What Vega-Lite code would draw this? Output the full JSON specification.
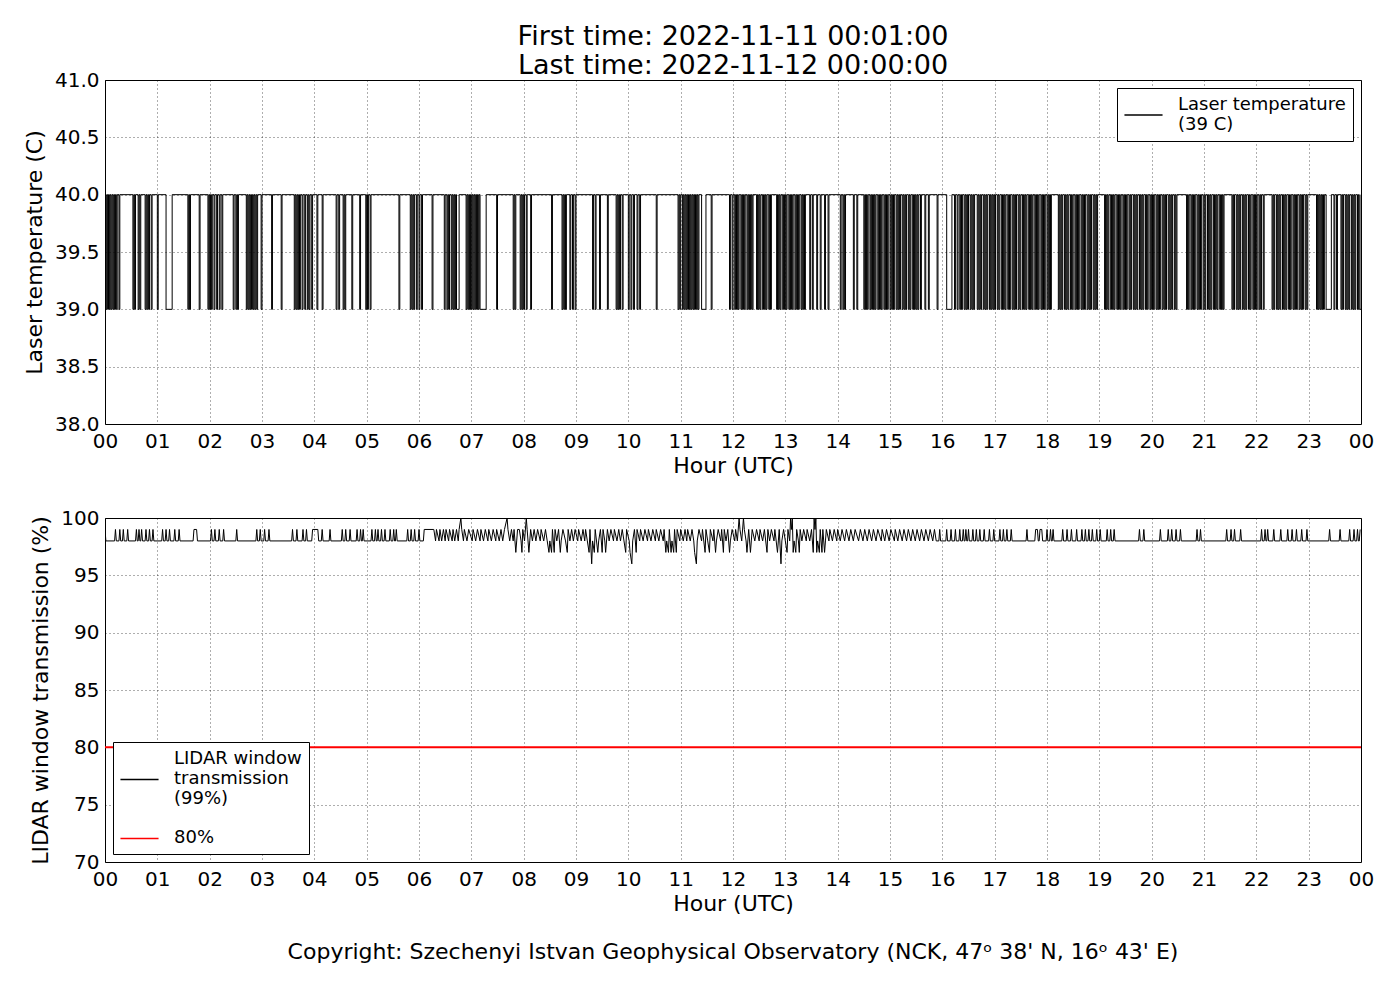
{
  "$schema": "https://vega.github.io/schema/vega-lite/v6.json",
  "background": "white",
  "padding": {"left": 22, "top": 22, "right": 10, "bottom": 10},
  "resolve": {"scale": {"color": "independent"}, "legend": {"color": "independent"}},
  "datasets": {
    "laser": [
      {"m":0,"v":40},
      {"m":1,"v":39},{"m":2,"v":40},{"m":3,"v":39},{"m":4,"v":40},{"m":5,"v":39},{"m":6,"v":40},{"m":7,"v":39},{"m":8,"v":40},{"m":9,"v":39},{"m":10,"v":40},{"m":11,"v":39},{"m":12,"v":40},{"m":13,"v":39},{"m":14,"v":40},{"m":16,"v":39},{"m":17,"v":40},
      {"m":32,"v":39},{"m":33,"v":40},{"m":34,"v":39},{"m":35,"v":40},{"m":38,"v":39},{"m":39,"v":40},{"m":40,"v":39},{"m":41,"v":40},{"m":46,"v":39},{"m":47,"v":40},{"m":48,"v":39},{"m":49,"v":40},{"m":50,"v":39},{"m":51,"v":40},{"m":53,"v":39},{"m":54,"v":40},{"m":60,"v":39},{"m":61,"v":40},
      {"m":70,"v":39},{"m":77,"v":40},
      {"m":95,"v":39},{"m":96,"v":40},{"m":97,"v":39},{"m":98,"v":40},{"m":108,"v":39},{"m":109,"v":40},{"m":118,"v":39},{"m":119,"v":40},{"m":120,"v":39},{"m":121,"v":40},{"m":122,"v":39},{"m":123,"v":40},{"m":125,"v":39},{"m":126,"v":40},{"m":128,"v":39},{"m":129,"v":40},{"m":131,"v":39},{"m":132,"v":40},{"m":134,"v":39},{"m":135,"v":40},{"m":147,"v":39},{"m":148,"v":40},{"m":150,"v":39},{"m":151,"v":40},{"m":152,"v":39},{"m":153,"v":40},
      {"m":162,"v":39},{"m":163,"v":40},{"m":164,"v":39},{"m":165,"v":40},{"m":166,"v":39},{"m":167,"v":40},{"m":168,"v":39},{"m":169,"v":40},{"m":170,"v":39},{"m":171,"v":40},{"m":172,"v":39},{"m":173,"v":40},{"m":174,"v":39},{"m":175,"v":40},{"m":179,"v":39},{"m":180,"v":40},{"m":191,"v":39},{"m":192,"v":40},{"m":202,"v":39},{"m":203,"v":40},
      {"m":217,"v":39},{"m":218,"v":40},{"m":219,"v":39},{"m":220,"v":40},{"m":221,"v":39},{"m":222,"v":40},{"m":223,"v":39},{"m":224,"v":40},{"m":226,"v":39},{"m":227,"v":40},{"m":229,"v":39},{"m":230,"v":40},{"m":232,"v":39},{"m":233,"v":40},{"m":234,"v":39},{"m":235,"v":40},{"m":237,"v":39},{"m":238,"v":40},{"m":243,"v":39},{"m":244,"v":40},{"m":249,"v":39},{"m":250,"v":40},
      {"m":265,"v":39},{"m":266,"v":40},{"m":268,"v":39},{"m":269,"v":40},{"m":273,"v":39},{"m":274,"v":40},{"m":275,"v":39},{"m":276,"v":40},{"m":283,"v":39},{"m":284,"v":40},{"m":292,"v":39},{"m":293,"v":40},{"m":299,"v":39},{"m":300,"v":40},{"m":301,"v":39},{"m":302,"v":40},{"m":304,"v":39},{"m":305,"v":40},{"m":337,"v":39},{"m":338,"v":40},
      {"m":350,"v":39},{"m":351,"v":40},{"m":352,"v":39},{"m":353,"v":40},{"m":354,"v":39},{"m":355,"v":40},{"m":357,"v":39},{"m":358,"v":40},{"m":360,"v":39},{"m":361,"v":40},{"m":363,"v":39},{"m":364,"v":40},{"m":375,"v":39},{"m":376,"v":40},{"m":389,"v":39},{"m":390,"v":40},{"m":392,"v":39},{"m":393,"v":40},{"m":394,"v":39},{"m":395,"v":40},
      {"m":397,"v":39},{"m":398,"v":40},{"m":399,"v":39},{"m":400,"v":40},{"m":401,"v":39},{"m":402,"v":40},{"m":403,"v":39},{"m":406,"v":40},
      {"m":414,"v":39},{"m":415,"v":40},{"m":416,"v":39},{"m":417,"v":40},{"m":418,"v":39},{"m":419,"v":40},{"m":420,"v":39},{"m":421,"v":40},{"m":422,"v":39},{"m":423,"v":40},{"m":424,"v":39},{"m":425,"v":40},{"m":426,"v":39},{"m":427,"v":40},{"m":428,"v":39},{"m":429,"v":40},{"m":430,"v":39},{"m":437,"v":40},
      {"m":449,"v":39},{"m":450,"v":40},{"m":468,"v":39},{"m":469,"v":40},{"m":470,"v":39},{"m":471,"v":40},{"m":476,"v":39},{"m":477,"v":40},{"m":478,"v":39},{"m":479,"v":40},{"m":480,"v":39},{"m":481,"v":40},{"m":483,"v":39},{"m":484,"v":40},{"m":488,"v":39},{"m":489,"v":40},{"m":512,"v":39},{"m":513,"v":40},{"m":524,"v":39},{"m":525,"v":40},{"m":526,"v":39},{"m":527,"v":40},{"m":528,"v":39},{"m":529,"v":40},{"m":533,"v":39},{"m":534,"v":40},{"m":536,"v":39},{"m":537,"v":40},{"m":539,"v":39},{"m":540,"v":40},
      {"m":559,"v":39},{"m":560,"v":40},{"m":562,"v":39},{"m":563,"v":40},{"m":567,"v":39},{"m":568,"v":40},{"m":576,"v":39},{"m":577,"v":40},{"m":586,"v":39},{"m":587,"v":40},{"m":588,"v":39},{"m":589,"v":40},{"m":590,"v":39},{"m":591,"v":40},{"m":593,"v":39},{"m":594,"v":40},{"m":600,"v":39},{"m":601,"v":40},{"m":603,"v":39},{"m":604,"v":40},{"m":606,"v":39},{"m":607,"v":40},{"m":610,"v":39},{"m":611,"v":40},{"m":613,"v":39},{"m":614,"v":40},{"m":632,"v":39},{"m":633,"v":40},{"m":657,"v":39},{"m":658,"v":40},{"m":659,"v":39},{"m":660,"v":40},
      {"m":662,"v":39},{"m":663,"v":40},{"m":664,"v":39},{"m":665,"v":40},{"m":666,"v":39},{"m":667,"v":40},{"m":668,"v":39},{"m":669,"v":40},{"m":670,"v":39},{"m":671,"v":40},{"m":672,"v":39},{"m":673,"v":40},{"m":674,"v":39},{"m":675,"v":40},{"m":676,"v":39},{"m":677,"v":40},{"m":678,"v":39},{"m":679,"v":40},{"m":680,"v":39},{"m":681,"v":40},{"m":684,"v":39},{"m":689,"v":40},{"m":695,"v":39},{"m":696,"v":40},
      {"m":716,"v":39},{"m":717,"v":40},{"m":719,"v":39},{"m":720,"v":40},{"m":722,"v":39},{"m":723,"v":40},{"m":724,"v":39},{"m":725,"v":40},{"m":726,"v":39},{"m":727,"v":40},{"m":729,"v":39},{"m":730,"v":40},{"m":731,"v":39},{"m":732,"v":40},{"m":733,"v":39},{"m":734,"v":40},{"m":736,"v":39},{"m":737,"v":40},{"m":738,"v":39},{"m":739,"v":40},{"m":740,"v":39},{"m":741,"v":40},{"m":742,"v":39},{"m":743,"v":40},
      {"m":747,"v":39},{"m":748,"v":40},{"m":749,"v":39},{"m":750,"v":40},{"m":751,"v":39},{"m":752,"v":40},{"m":754,"v":39},{"m":755,"v":40},{"m":756,"v":39},{"m":757,"v":40},{"m":758,"v":39},{"m":759,"v":40},{"m":761,"v":39},{"m":762,"v":40},{"m":763,"v":39},{"m":764,"v":40},
      {"m":770,"v":39},{"m":771,"v":40},{"m":772,"v":39},{"m":773,"v":40},{"m":774,"v":39},{"m":775,"v":40},{"m":777,"v":39},{"m":778,"v":40},{"m":779,"v":39},{"m":780,"v":40},{"m":781,"v":39},{"m":782,"v":40},{"m":784,"v":39},{"m":785,"v":40},{"m":786,"v":39},{"m":787,"v":40},{"m":788,"v":39},{"m":789,"v":40},{"m":791,"v":39},{"m":792,"v":40},{"m":793,"v":39},{"m":794,"v":40},{"m":795,"v":39},{"m":796,"v":40},{"m":798,"v":39},{"m":799,"v":40},{"m":800,"v":39},{"m":801,"v":40},{"m":802,"v":39},{"m":803,"v":40},
      {"m":808,"v":39},{"m":809,"v":40},{"m":811,"v":39},{"m":812,"v":40},{"m":816,"v":39},{"m":817,"v":40},{"m":820,"v":39},{"m":821,"v":40},{"m":825,"v":39},{"m":826,"v":40},{"m":829,"v":39},{"m":830,"v":40},
      {"m":843,"v":39},{"m":844,"v":40},{"m":846,"v":39},{"m":847,"v":40},{"m":848,"v":39},{"m":849,"v":40},{"m":858,"v":39},{"m":859,"v":40},{"m":862,"v":39},{"m":863,"v":40},
      {"m":870,"v":39},{"m":871,"v":40},{"m":872,"v":39},{"m":873,"v":40},{"m":874,"v":39},{"m":875,"v":40},{"m":877,"v":39},{"m":878,"v":40},{"m":879,"v":39},{"m":880,"v":40},{"m":881,"v":39},{"m":882,"v":40},{"m":883,"v":39},{"m":884,"v":40},{"m":886,"v":39},{"m":887,"v":40},{"m":888,"v":39},{"m":889,"v":40},{"m":890,"v":39},{"m":891,"v":40},{"m":893,"v":39},{"m":894,"v":40},{"m":895,"v":39},{"m":896,"v":40},{"m":897,"v":39},{"m":898,"v":40},{"m":900,"v":39},{"m":901,"v":40},{"m":902,"v":39},{"m":903,"v":40},{"m":904,"v":39},{"m":905,"v":40},{"m":907,"v":39},{"m":908,"v":40},{"m":909,"v":39},{"m":910,"v":40},{"m":911,"v":39},{"m":912,"v":40},{"m":914,"v":39},{"m":915,"v":40},{"m":916,"v":39},{"m":917,"v":40},{"m":918,"v":39},{"m":919,"v":40},{"m":921,"v":39},{"m":922,"v":40},{"m":923,"v":39},{"m":924,"v":40},{"m":926,"v":39},{"m":927,"v":40},{"m":928,"v":39},{"m":929,"v":40},{"m":930,"v":39},{"m":931,"v":40},{"m":932,"v":39},{"m":933,"v":40},
      {"m":935,"v":39},{"m":936,"v":40},{"m":940,"v":39},{"m":941,"v":40},{"m":944,"v":39},{"m":945,"v":40},{"m":954,"v":39},{"m":955,"v":40},
      {"m":965,"v":39},{"m":971,"v":40},{"m":974,"v":39},{"m":975,"v":40},{"m":977,"v":39},{"m":978,"v":40},
      {"m":980,"v":39},{"m":981,"v":40},{"m":982,"v":39},{"m":983,"v":40},{"m":985,"v":39},{"m":986,"v":40},{"m":987,"v":39},{"m":988,"v":40},{"m":989,"v":39},{"m":990,"v":40},{"m":992,"v":39},{"m":993,"v":40},{"m":994,"v":39},{"m":995,"v":40},{"m":996,"v":39},{"m":997,"v":40},{"m":1000,"v":39},{"m":1001,"v":40},{"m":1002,"v":39},{"m":1003,"v":40},{"m":1004,"v":39},{"m":1005,"v":40},{"m":1007,"v":39},{"m":1008,"v":40},{"m":1009,"v":39},{"m":1010,"v":40},{"m":1011,"v":39},{"m":1012,"v":40},{"m":1014,"v":39},{"m":1015,"v":40},{"m":1016,"v":39},{"m":1017,"v":40},{"m":1018,"v":39},{"m":1019,"v":40},{"m":1020,"v":39},{"m":1021,"v":40},
      {"m":1023,"v":39},{"m":1024,"v":40},{"m":1025,"v":39},{"m":1026,"v":40},{"m":1028,"v":39},{"m":1029,"v":40},{"m":1030,"v":39},{"m":1031,"v":40},{"m":1032,"v":39},{"m":1033,"v":40},{"m":1035,"v":39},{"m":1036,"v":40},{"m":1037,"v":39},{"m":1038,"v":40},{"m":1040,"v":39},{"m":1041,"v":40},{"m":1042,"v":39},{"m":1043,"v":40},{"m":1044,"v":39},{"m":1045,"v":40},{"m":1047,"v":39},{"m":1048,"v":40},{"m":1049,"v":39},{"m":1050,"v":40},{"m":1052,"v":39},{"m":1053,"v":40},{"m":1054,"v":39},{"m":1055,"v":40},{"m":1056,"v":39},{"m":1057,"v":40},{"m":1059,"v":39},{"m":1060,"v":40},{"m":1061,"v":39},{"m":1062,"v":40},{"m":1063,"v":39},{"m":1064,"v":40},{"m":1066,"v":39},{"m":1067,"v":40},{"m":1068,"v":39},{"m":1069,"v":40},{"m":1070,"v":39},{"m":1071,"v":40},
      {"m":1073,"v":39},{"m":1074,"v":40},{"m":1075,"v":39},{"m":1076,"v":40},{"m":1077,"v":39},{"m":1078,"v":40},{"m":1080,"v":39},{"m":1081,"v":40},{"m":1082,"v":39},{"m":1083,"v":40},{"m":1084,"v":39},{"m":1085,"v":40},
      {"m":1093,"v":39},{"m":1094,"v":40},{"m":1095,"v":39},{"m":1096,"v":40},{"m":1097,"v":39},{"m":1098,"v":40},{"m":1100,"v":39},{"m":1101,"v":40},{"m":1102,"v":39},{"m":1103,"v":40},{"m":1104,"v":39},{"m":1105,"v":40},{"m":1107,"v":39},{"m":1108,"v":40},{"m":1109,"v":39},{"m":1110,"v":40},{"m":1112,"v":39},{"m":1113,"v":40},{"m":1114,"v":39},{"m":1115,"v":40},{"m":1116,"v":39},{"m":1117,"v":40},{"m":1119,"v":39},{"m":1120,"v":40},{"m":1121,"v":39},{"m":1122,"v":40},{"m":1123,"v":39},{"m":1124,"v":40},{"m":1126,"v":39},{"m":1127,"v":40},{"m":1128,"v":39},{"m":1129,"v":40},{"m":1130,"v":39},{"m":1131,"v":40},{"m":1133,"v":39},{"m":1134,"v":40},{"m":1135,"v":39},{"m":1136,"v":40},{"m":1137,"v":39},{"m":1138,"v":40},
      {"m":1146,"v":39},{"m":1147,"v":40},{"m":1148,"v":39},{"m":1149,"v":40},{"m":1150,"v":39},{"m":1151,"v":40},{"m":1153,"v":39},{"m":1154,"v":40},{"m":1155,"v":39},{"m":1156,"v":40},{"m":1157,"v":39},{"m":1158,"v":40},{"m":1160,"v":39},{"m":1161,"v":40},{"m":1162,"v":39},{"m":1163,"v":40},{"m":1164,"v":39},{"m":1165,"v":40},{"m":1167,"v":39},{"m":1168,"v":40},{"m":1169,"v":39},{"m":1170,"v":40},{"m":1171,"v":39},{"m":1172,"v":40},{"m":1174,"v":39},{"m":1175,"v":40},{"m":1176,"v":39},{"m":1177,"v":40},{"m":1179,"v":39},{"m":1180,"v":40},{"m":1181,"v":39},{"m":1182,"v":40},{"m":1183,"v":39},{"m":1184,"v":40},{"m":1186,"v":39},{"m":1187,"v":40},{"m":1188,"v":39},{"m":1189,"v":40},{"m":1190,"v":39},{"m":1191,"v":40},{"m":1193,"v":39},{"m":1194,"v":40},{"m":1195,"v":39},{"m":1196,"v":40},{"m":1198,"v":39},{"m":1199,"v":40},{"m":1200,"v":39},{"m":1201,"v":40},{"m":1202,"v":39},{"m":1203,"v":40},{"m":1205,"v":39},{"m":1206,"v":40},{"m":1207,"v":39},{"m":1208,"v":40},{"m":1209,"v":39},{"m":1210,"v":40},{"m":1212,"v":39},{"m":1213,"v":40},{"m":1214,"v":39},{"m":1215,"v":40},{"m":1216,"v":39},{"m":1217,"v":40},{"m":1219,"v":39},{"m":1220,"v":40},{"m":1221,"v":39},{"m":1222,"v":40},{"m":1223,"v":39},{"m":1224,"v":40},{"m":1226,"v":39},{"m":1227,"v":40},{"m":1228,"v":39},{"m":1229,"v":40},
      {"m":1240,"v":39},{"m":1241,"v":40},{"m":1242,"v":39},{"m":1243,"v":40},{"m":1245,"v":39},{"m":1246,"v":40},{"m":1247,"v":39},{"m":1248,"v":40},{"m":1249,"v":39},{"m":1250,"v":40},{"m":1252,"v":39},{"m":1253,"v":40},{"m":1254,"v":39},{"m":1255,"v":40},{"m":1256,"v":39},{"m":1257,"v":40},{"m":1259,"v":39},{"m":1260,"v":40},{"m":1261,"v":39},{"m":1262,"v":40},{"m":1264,"v":39},{"m":1265,"v":40},{"m":1266,"v":39},{"m":1267,"v":40},{"m":1268,"v":39},{"m":1269,"v":40},{"m":1271,"v":39},{"m":1272,"v":40},{"m":1273,"v":39},{"m":1274,"v":40},{"m":1275,"v":39},{"m":1276,"v":40},{"m":1278,"v":39},{"m":1279,"v":40},{"m":1280,"v":39},{"m":1281,"v":40},{"m":1282,"v":39},{"m":1283,"v":40},
      {"m":1292,"v":39},{"m":1293,"v":40},{"m":1294,"v":39},{"m":1295,"v":40},{"m":1297,"v":39},{"m":1298,"v":40},{"m":1299,"v":39},{"m":1300,"v":40},{"m":1301,"v":39},{"m":1302,"v":40},{"m":1304,"v":39},{"m":1305,"v":40},{"m":1306,"v":39},{"m":1307,"v":40},{"m":1308,"v":39},{"m":1309,"v":40},{"m":1311,"v":39},{"m":1312,"v":40},{"m":1313,"v":39},{"m":1314,"v":40},{"m":1316,"v":39},{"m":1317,"v":40},{"m":1318,"v":39},{"m":1319,"v":40},{"m":1320,"v":39},{"m":1321,"v":40},{"m":1323,"v":39},{"m":1324,"v":40},{"m":1325,"v":39},{"m":1326,"v":40},{"m":1328,"v":39},{"m":1329,"v":40},
      {"m":1338,"v":39},{"m":1339,"v":40},{"m":1340,"v":39},{"m":1341,"v":40},{"m":1343,"v":39},{"m":1344,"v":40},{"m":1345,"v":39},{"m":1346,"v":40},{"m":1347,"v":39},{"m":1348,"v":40},{"m":1350,"v":39},{"m":1351,"v":40},{"m":1352,"v":39},{"m":1353,"v":40},{"m":1354,"v":39},{"m":1355,"v":40},{"m":1357,"v":39},{"m":1358,"v":40},{"m":1359,"v":39},{"m":1360,"v":40},{"m":1362,"v":39},{"m":1363,"v":40},{"m":1364,"v":39},{"m":1365,"v":40},{"m":1366,"v":39},{"m":1367,"v":40},{"m":1369,"v":39},{"m":1370,"v":40},{"m":1371,"v":39},{"m":1372,"v":40},{"m":1373,"v":39},{"m":1374,"v":40},{"m":1376,"v":39},{"m":1377,"v":40},{"m":1378,"v":39},{"m":1379,"v":40},
      {"m":1389,"v":39},{"m":1390,"v":40},{"m":1391,"v":39},{"m":1392,"v":40},{"m":1393,"v":39},{"m":1394,"v":40},{"m":1395,"v":39},{"m":1396,"v":40},{"m":1397,"v":39},{"m":1398,"v":40},{"m":1400,"v":39},{"m":1406,"v":40},{"m":1409,"v":39},{"m":1410,"v":40},{"m":1412,"v":39},{"m":1413,"v":40},
      {"m":1417,"v":39},{"m":1418,"v":40},{"m":1419,"v":39},{"m":1420,"v":40},{"m":1422,"v":39},{"m":1423,"v":40},{"m":1424,"v":39},{"m":1425,"v":40},{"m":1426,"v":39},{"m":1427,"v":40},{"m":1429,"v":39},{"m":1430,"v":40},{"m":1431,"v":39},{"m":1432,"v":40},{"m":1433,"v":39},{"m":1434,"v":40},{"m":1436,"v":39},{"m":1437,"v":40},{"m":1438,"v":39},{"m":1440,"v":40}
    ],
    "lidar": [
      {"m":0,"v":99},{"m":1,"v":98},
      {"m":11,"v":98},{"m":12,"v":99},{"m":13,"v":98},{"m":16,"v":98},{"m":17,"v":99},{"m":18,"v":98},{"m":20,"v":98},{"m":21,"v":99},{"m":22,"v":98},{"m":25,"v":98},{"m":26,"v":99},{"m":27,"v":98},
      {"m":35,"v":98},{"m":36,"v":99},{"m":37,"v":98},{"m":38,"v":98},{"m":39,"v":99},{"m":40,"v":98},{"m":41,"v":98},{"m":42,"v":99},{"m":43,"v":98},{"m":46,"v":98},{"m":47,"v":99},{"m":48,"v":98},{"m":50,"v":98},{"m":51,"v":99},{"m":52,"v":98},{"m":54,"v":98},{"m":55,"v":99},{"m":56,"v":98},
      {"m":65,"v":98},{"m":66,"v":99},{"m":67,"v":98},{"m":69,"v":98},{"m":70,"v":99},{"m":71,"v":98},{"m":73,"v":98},{"m":74,"v":99},{"m":75,"v":98},{"m":79,"v":98},{"m":80,"v":99},{"m":81,"v":98},{"m":84,"v":98},{"m":85,"v":99},{"m":86,"v":98},
      {"m":101,"v":98},{"m":102,"v":99},{"m":105,"v":99},{"m":106,"v":98},
      {"m":121,"v":98},{"m":122,"v":99},{"m":123,"v":98},{"m":125,"v":98},{"m":126,"v":99},{"m":127,"v":98},{"m":130,"v":98},{"m":131,"v":99},{"m":132,"v":98},{"m":135,"v":98},{"m":136,"v":99},{"m":137,"v":98},{"m":150,"v":98},{"m":151,"v":99},{"m":152,"v":98},
      {"m":173,"v":98},{"m":174,"v":99},{"m":175,"v":98},{"m":177,"v":98},{"m":178,"v":99},{"m":179,"v":98},{"m":182,"v":98},{"m":183,"v":99},{"m":184,"v":98},{"m":187,"v":98},{"m":188,"v":99},{"m":189,"v":98},
      {"m":214,"v":98},{"m":215,"v":99},{"m":216,"v":98},{"m":219,"v":98},{"m":220,"v":99},{"m":221,"v":98},{"m":226,"v":98},{"m":227,"v":99},{"m":228,"v":98},{"m":230,"v":98},{"m":231,"v":99},{"m":232,"v":98},
      {"m":237,"v":98},{"m":238,"v":99},{"m":244,"v":99},{"m":245,"v":98},
      {"m":248,"v":98},{"m":249,"v":99},{"m":250,"v":98},{"m":257,"v":98},{"m":258,"v":99},{"m":259,"v":98},{"m":271,"v":98},{"m":272,"v":99},{"m":273,"v":98},{"m":275,"v":98},{"m":276,"v":99},{"m":277,"v":98},{"m":280,"v":98},{"m":281,"v":99},{"m":282,"v":98},
      {"m":288,"v":98},{"m":289,"v":99},{"m":290,"v":98},{"m":292,"v":98},{"m":293,"v":99},{"m":294,"v":98},{"m":295,"v":98},{"m":296,"v":99},{"m":297,"v":98},{"m":305,"v":98},{"m":306,"v":99},{"m":307,"v":98},{"m":309,"v":98},{"m":310,"v":99},{"m":311,"v":98},{"m":312,"v":98},{"m":313,"v":99},{"m":314,"v":98},{"m":316,"v":98},{"m":317,"v":99},{"m":318,"v":98},{"m":320,"v":98},{"m":321,"v":99},{"m":322,"v":98},
      {"m":326,"v":98},{"m":327,"v":99},{"m":328,"v":98},{"m":330,"v":98},{"m":331,"v":99},{"m":332,"v":98},{"m":333,"v":98},{"m":334,"v":99},{"m":335,"v":98},{"m":346,"v":98},{"m":347,"v":99},{"m":348,"v":98},{"m":350,"v":98},{"m":351,"v":99},{"m":352,"v":98},{"m":354,"v":98},{"m":355,"v":99},{"m":356,"v":98},{"m":359,"v":98},{"m":360,"v":99},{"m":361,"v":98},
      {"m":365,"v":98},{"m":366,"v":99},{"m":377,"v":99},
      {"m":379,"v":98},{"m":380,"v":99},{"m":383,"v":98},{"m":384,"v":99},{"m":386,"v":98},{"m":388,"v":99},{"m":390,"v":98},{"m":391,"v":99},{"m":394,"v":98},{"m":395,"v":99},{"m":398,"v":98},{"m":399,"v":99},{"m":401,"v":98},{"m":403,"v":99},{"m":405,"v":98},{"m":406,"v":99},{"m":408,"v":100},{"m":409,"v":99},{"m":411,"v":98},{"m":412,"v":99},{"m":415,"v":98},{"m":417,"v":99},{"m":421,"v":98},{"m":422,"v":99},{"m":425,"v":98},{"m":427,"v":99},{"m":430,"v":98},{"m":431,"v":99},{"m":434,"v":98},{"m":436,"v":99},{"m":439,"v":98},{"m":440,"v":99},{"m":443,"v":98},{"m":445,"v":99},{"m":448,"v":98},{"m":449,"v":99},{"m":452,"v":98},{"m":454,"v":99},{"m":456,"v":98},{"m":458,"v":99},{"m":461,"v":100},{"m":462,"v":99},{"m":464,"v":98},{"m":466,"v":99},{"m":468,"v":98},{"m":469,"v":99},{"m":471,"v":97},{"m":472,"v":98},{"m":473,"v":99},
      {"m":475,"v":99},{"m":477,"v":98},{"m":478,"v":97},{"m":479,"v":99},{"m":481,"v":98},{"m":483,"v":100},{"m":484,"v":99},{"m":486,"v":97},{"m":487,"v":98},{"m":488,"v":99},{"m":490,"v":98},{"m":492,"v":99},{"m":494,"v":98},{"m":496,"v":99},{"m":499,"v":98},{"m":500,"v":99},{"m":503,"v":98},{"m":505,"v":99},{"m":507,"v":98},{"m":509,"v":97},{"m":510,"v":98},{"m":512,"v":97},{"m":513,"v":99},{"m":515,"v":97},{"m":516,"v":99},{"m":518,"v":98},{"m":520,"v":99},{"m":522,"v":97},{"m":523,"v":98},{"m":525,"v":99},{"m":528,"v":98},{"m":530,"v":97},{"m":531,"v":99},{"m":533,"v":98},{"m":535,"v":99},{"m":537,"v":98},{"m":539,"v":99},{"m":542,"v":98},{"m":543,"v":99},{"m":546,"v":98},{"m":548,"v":99},{"m":550,"v":98},{"m":551,"v":99},{"m":553,"v":98},{"m":555,"v":97},{"m":556,"v":99},{"m":558,"v":96},{"m":559,"v":98},{"m":561,"v":97},{"m":562,"v":99},{"m":565,"v":97},{"m":566,"v":98},{"m":568,"v":99},{"m":570,"v":97},{"m":571,"v":99},{"m":573,"v":98},{"m":574,"v":97},{"m":576,"v":99},{"m":578,"v":98},{"m":580,"v":99},{"m":583,"v":98},{"m":584,"v":99},{"m":587,"v":98},{"m":589,"v":99},{"m":591,"v":98},{"m":593,"v":99},{"m":595,"v":98},{"m":597,"v":97},{"m":598,"v":99},
      {"m":601,"v":98},{"m":602,"v":97},{"m":604,"v":96},{"m":605,"v":98},{"m":607,"v":99},{"m":609,"v":97},{"m":610,"v":99},{"m":613,"v":98},{"m":614,"v":99},{"m":617,"v":98},{"m":619,"v":99},{"m":622,"v":98},{"m":623,"v":99},{"m":626,"v":98},{"m":628,"v":99},{"m":631,"v":98},{"m":632,"v":99},{"m":635,"v":98},{"m":637,"v":99},{"m":640,"v":98},{"m":641,"v":99},{"m":643,"v":97},{"m":644,"v":98},{"m":646,"v":97},{"m":647,"v":99},{"m":649,"v":97},{"m":650,"v":98},{"m":652,"v":97},{"m":653,"v":99},{"m":655,"v":97},{"m":656,"v":99},{"m":659,"v":98},{"m":660,"v":99},{"m":663,"v":98},{"m":665,"v":99},{"m":667,"v":98},{"m":668,"v":99},{"m":671,"v":98},{"m":673,"v":99},{"m":675,"v":98},{"m":676,"v":97},{"m":678,"v":96},{"m":679,"v":98},{"m":681,"v":99},{"m":684,"v":98},{"m":685,"v":99},{"m":688,"v":97},{"m":689,"v":99},{"m":691,"v":98},{"m":693,"v":97},{"m":694,"v":99},{"m":697,"v":98},{"m":698,"v":99},
      {"m":700,"v":97},{"m":701,"v":98},{"m":703,"v":99},{"m":706,"v":98},{"m":707,"v":99},{"m":709,"v":97},{"m":710,"v":99},{"m":712,"v":98},{"m":714,"v":99},{"m":716,"v":97},{"m":717,"v":98},{"m":719,"v":99},{"m":722,"v":98},{"m":723,"v":99},{"m":725,"v":98},{"m":727,"v":100},{"m":728,"v":99},{"m":730,"v":98},{"m":732,"v":100},{"m":733,"v":99},{"m":735,"v":98},{"m":736,"v":97},{"m":738,"v":99},{"m":740,"v":97},{"m":741,"v":98},{"m":742,"v":99},{"m":745,"v":98},{"m":747,"v":99},{"m":750,"v":98},{"m":751,"v":99},{"m":754,"v":98},{"m":756,"v":99},{"m":759,"v":97},{"m":760,"v":99},{"m":762,"v":98},{"m":764,"v":99},{"m":767,"v":98},{"m":768,"v":99},{"m":771,"v":97},{"m":772,"v":98},{"m":773,"v":99},{"m":775,"v":96},{"m":776,"v":98},{"m":778,"v":99},{"m":780,"v":98},{"m":782,"v":97},{"m":783,"v":99},{"m":785,"v":98},{"m":786,"v":100},{"m":787,"v":99},{"m":788,"v":100},{"m":789,"v":97},{"m":790,"v":98},{"m":792,"v":97},{"m":793,"v":99},{"m":795,"v":98},{"m":796,"v":97},{"m":797,"v":99},{"m":799,"v":98},
      {"m":801,"v":99},{"m":804,"v":98},{"m":805,"v":99},{"m":808,"v":98},{"m":810,"v":99},{"m":812,"v":97},{"m":813,"v":100},{"m":814,"v":99},{"m":815,"v":100},{"m":816,"v":97},{"m":817,"v":98},{"m":819,"v":97},{"m":820,"v":99},{"m":822,"v":97},{"m":823,"v":99},{"m":825,"v":97},{"m":826,"v":98},{"m":827,"v":99},{"m":830,"v":98},{"m":831,"v":99},{"m":834,"v":98},{"m":836,"v":99},{"m":839,"v":98},{"m":840,"v":99},{"m":843,"v":98},{"m":845,"v":99},{"m":848,"v":98},{"m":850,"v":99},{"m":853,"v":98},{"m":855,"v":99},{"m":858,"v":98},{"m":860,"v":99},{"m":864,"v":98},{"m":866,"v":99},{"m":869,"v":98},{"m":871,"v":99},{"m":874,"v":98},{"m":876,"v":99},{"m":879,"v":98},{"m":881,"v":99},{"m":884,"v":98},{"m":886,"v":99},{"m":890,"v":98},{"m":891,"v":99},{"m":894,"v":98},{"m":896,"v":99},{"m":899,"v":98},
      {"m":901,"v":99},{"m":905,"v":98},{"m":906,"v":99},{"m":909,"v":98},{"m":911,"v":99},{"m":914,"v":98},{"m":916,"v":99},{"m":919,"v":98},{"m":921,"v":99},{"m":924,"v":98},{"m":926,"v":99},{"m":929,"v":98},{"m":931,"v":99},{"m":934,"v":98},{"m":936,"v":99},{"m":939,"v":98},{"m":941,"v":99},{"m":944,"v":98},{"m":946,"v":99},{"m":949,"v":98},{"m":951,"v":99},{"m":953,"v":98},
      {"m":956,"v":98},{"m":957,"v":99},{"m":958,"v":98},{"m":964,"v":98},{"m":965,"v":99},{"m":966,"v":98},{"m":969,"v":98},{"m":970,"v":99},{"m":971,"v":98},{"m":974,"v":98},{"m":975,"v":99},{"m":976,"v":98},{"m":979,"v":98},{"m":980,"v":99},{"m":981,"v":98},{"m":983,"v":98},{"m":984,"v":99},{"m":985,"v":98},{"m":986,"v":98},{"m":987,"v":99},{"m":988,"v":98},{"m":989,"v":98},{"m":990,"v":99},{"m":991,"v":98},{"m":994,"v":98},{"m":995,"v":99},{"m":996,"v":98},{"m":998,"v":98},{"m":999,"v":99},{"m":1000,"v":98},
      {"m":1002,"v":98},{"m":1003,"v":99},{"m":1004,"v":98},{"m":1007,"v":98},{"m":1008,"v":99},{"m":1009,"v":98},{"m":1013,"v":98},{"m":1014,"v":99},{"m":1015,"v":98},{"m":1018,"v":98},{"m":1019,"v":99},{"m":1020,"v":98},{"m":1025,"v":98},{"m":1026,"v":99},{"m":1027,"v":98},{"m":1029,"v":98},{"m":1030,"v":99},{"m":1031,"v":98},{"m":1033,"v":98},{"m":1034,"v":99},{"m":1035,"v":98},{"m":1038,"v":98},{"m":1039,"v":99},{"m":1040,"v":98},{"m":1056,"v":98},{"m":1057,"v":99},{"m":1058,"v":98},
      {"m":1066,"v":98},{"m":1067,"v":99},{"m":1069,"v":99},{"m":1070,"v":98},{"m":1071,"v":98},{"m":1072,"v":99},{"m":1074,"v":99},{"m":1075,"v":98},
      {"m":1079,"v":98},{"m":1080,"v":99},{"m":1081,"v":98},{"m":1083,"v":98},{"m":1084,"v":99},{"m":1085,"v":98},{"m":1086,"v":98},{"m":1087,"v":99},{"m":1088,"v":98},{"m":1097,"v":98},{"m":1098,"v":99},{"m":1099,"v":98},{"m":1102,"v":98},{"m":1103,"v":99},{"m":1104,"v":98},{"m":1107,"v":98},{"m":1108,"v":99},{"m":1109,"v":98},{"m":1113,"v":98},{"m":1114,"v":99},{"m":1115,"v":98},
      {"m":1119,"v":98},{"m":1120,"v":99},{"m":1121,"v":98},{"m":1123,"v":98},{"m":1124,"v":99},{"m":1125,"v":98},{"m":1127,"v":98},{"m":1128,"v":99},{"m":1129,"v":98},{"m":1131,"v":98},{"m":1132,"v":99},{"m":1133,"v":98},{"m":1136,"v":98},{"m":1137,"v":99},{"m":1138,"v":98},{"m":1140,"v":98},{"m":1141,"v":99},{"m":1142,"v":98},{"m":1148,"v":98},{"m":1149,"v":99},{"m":1150,"v":98},{"m":1152,"v":98},{"m":1153,"v":99},{"m":1154,"v":98},{"m":1156,"v":98},{"m":1157,"v":99},{"m":1158,"v":98},
      {"m":1185,"v":98},{"m":1186,"v":99},{"m":1187,"v":98},{"m":1190,"v":98},{"m":1191,"v":99},{"m":1192,"v":98},{"m":1209,"v":98},{"m":1210,"v":99},{"m":1211,"v":98},{"m":1218,"v":98},{"m":1219,"v":99},{"m":1220,"v":98},{"m":1222,"v":98},{"m":1223,"v":99},{"m":1224,"v":98},{"m":1227,"v":98},{"m":1228,"v":99},{"m":1229,"v":98},{"m":1232,"v":98},{"m":1233,"v":99},{"m":1234,"v":98},
      {"m":1251,"v":98},{"m":1252,"v":99},{"m":1253,"v":98},{"m":1255,"v":98},{"m":1256,"v":99},{"m":1257,"v":98},{"m":1285,"v":98},{"m":1286,"v":99},{"m":1287,"v":98},{"m":1290,"v":98},{"m":1291,"v":99},{"m":1292,"v":98},{"m":1294,"v":98},{"m":1295,"v":99},{"m":1296,"v":98},{"m":1301,"v":98},{"m":1302,"v":99},{"m":1303,"v":98},
      {"m":1325,"v":98},{"m":1326,"v":99},{"m":1327,"v":98},{"m":1329,"v":98},{"m":1330,"v":99},{"m":1331,"v":98},{"m":1332,"v":98},{"m":1333,"v":99},{"m":1334,"v":98},{"m":1339,"v":98},{"m":1340,"v":99},{"m":1341,"v":98},{"m":1347,"v":98},{"m":1348,"v":99},{"m":1349,"v":98},
      {"m":1355,"v":98},{"m":1356,"v":99},{"m":1357,"v":98},{"m":1360,"v":98},{"m":1361,"v":99},{"m":1362,"v":98},{"m":1365,"v":98},{"m":1366,"v":99},{"m":1367,"v":98},{"m":1371,"v":98},{"m":1372,"v":99},{"m":1373,"v":98},{"m":1377,"v":98},{"m":1378,"v":99},{"m":1379,"v":98},
      {"m":1403,"v":98},{"m":1404,"v":99},{"m":1405,"v":98},{"m":1415,"v":98},{"m":1416,"v":99},{"m":1417,"v":98},{"m":1426,"v":98},{"m":1427,"v":99},{"m":1428,"v":98},{"m":1431,"v":98},{"m":1432,"v":99},{"m":1433,"v":98},{"m":1435,"v":98},{"m":1436,"v":99},{"m":1437,"v":98},{"m":1438,"v":98},{"m":1439,"v":99}
    ]
  },
  "vconcat": [
    {
      "title": {
        "text": ["First time: 2022-11-11 00:01:00", "Last time: 2022-11-12 00:00:00"],
        "fontSize": 27,
        "lineHeight": 29,
        "offset": -10
      },
      "width": 1256,
      "height": 344,
      "data": {"name": "laser"},
      "mark": {"type": "line", "interpolate": "step-after", "strokeWidth": 1, "clip": true},
      "encoding": {
        "x": {
          "field": "m",
          "type": "quantitative",
          "scale": {"domain": [0, 1440], "nice": false, "zero": false},
          "axis": {
            "title": "Hour (UTC)",
            "values": [0, 60, 120, 180, 240, 300, 360, 420, 480, 540, 600, 660, 720, 780, 840, 900, 960, 1020, 1080, 1140, 1200, 1260, 1320, 1380, 1440],
            "labelExpr": "(floor(datum.value / 60) % 24 < 10 ? '0' : '') + (floor(datum.value / 60) % 24)"
          }
        },
        "y": {
          "field": "v",
          "type": "quantitative",
          "scale": {"domain": [38, 41], "nice": false, "zero": false},
          "axis": {
            "title": "Laser temperature (C)",
            "values": [38, 38.5, 39, 39.5, 40, 40.5, 41],
            "format": ".1f"
          }
        },
        "color": {
          "datum": "Laser temperature|(39 C)",
          "scale": {"domain": ["Laser temperature|(39 C)"], "range": ["black"]},
          "legend": {
            "orient": "top-right",
            "offset": 8,
            "labelExpr": "split(datum.label, '|')",
            "symbolType": "M-2.2,1.21H2.2",
            "symbolOffset": 10,
            "labelOffset": 25
          }
        }
      }
    },
    {
      "title": {
        "text": "Copyright: Szechenyi Istvan Geophysical Observatory (NCK, 47ᵒ  38' N, 16ᵒ  43' E)",
        "orient": "bottom",
        "fontSize": 22,
        "offset": 28
      },
      "width": 1256,
      "height": 344,
      "encoding": {
        "x": {
          "field": "m",
          "type": "quantitative",
          "scale": {"domain": [0, 1440], "nice": false, "zero": false},
          "axis": {
            "title": "Hour (UTC)",
            "values": [0, 60, 120, 180, 240, 300, 360, 420, 480, 540, 600, 660, 720, 780, 840, 900, 960, 1020, 1080, 1140, 1200, 1260, 1320, 1380, 1440],
            "labelExpr": "(floor(datum.value / 60) % 24 < 10 ? '0' : '') + (floor(datum.value / 60) % 24)"
          }
        },
        "y": {
          "field": "v",
          "type": "quantitative",
          "scale": {"domain": [70, 100], "nice": false, "zero": false},
          "axis": {
            "title": "LIDAR window transmission (%)",
            "values": [70, 75, 80, 85, 90, 95, 100]
          }
        }
      },
      "layer": [
        {
          "data": {"name": "lidar"},
          "mark": {"type": "line", "strokeWidth": 1, "clip": true},
          "encoding": {
            "color": {
              "datum": "LIDAR window|transmission|(99%)",
              "scale": {"domain": ["LIDAR window|transmission|(99%)", "|80%"], "range": ["black", "red"]},
              "legend": {
                "orient": "bottom-left",
                "offset": 8,
                "labelExpr": "split(datum.label, '|')",
                "symbolType": "M-2.2,2.42H2.2",
                "symbolOffset": 10,
                "labelOffset": 25,
                "rowPadding": -22
              }
            }
          }
        },
        {
          "data": {"values": [{"v": 80}]},
          "mark": {"type": "rule", "strokeWidth": 2},
          "encoding": {
            "x": null,
            "y": {"field": "v", "type": "quantitative"},
            "color": {"datum": "|80%"}
          }
        }
      ]
    }
  ],
  "config": {
    "font": "DejaVu Sans",
    "view": {"stroke": "black", "strokeWidth": 1},
    "concat": {"spacing": 30},
    "title": {"fontWeight": "normal", "color": "black", "anchor": "middle", "font": "DejaVu Sans"},
    "axis": {
      "labelFont": "DejaVu Sans",
      "titleFont": "DejaVu Sans",
      "labelFontSize": 20,
      "titleFontSize": 22,
      "titleFontWeight": "normal",
      "labelColor": "black",
      "titleColor": "black",
      "domain": false,
      "ticks": false,
      "tickSize": 0,
      "grid": true,
      "gridColor": "black",
      "gridDash": [1, 3],
      "gridOpacity": 0.8,
      "gridWidth": 0.8,
      "labelFlush": false,
      "labelOverlap": false
    },
    "axisX": {"labelPadding": 7, "titlePadding": 4},
    "axisY": {"labelPadding": 6, "titlePadding": 8},
    "legend": {
      "title": null,
      "labelFont": "DejaVu Sans",
      "labelFontSize": 18,
      "labelColor": "black",
      "labelLimit": 0,
      "symbolSize": 300,
      "symbolStrokeWidth": 1.5,
      "strokeColor": "black",
      "fillColor": "white",
      "padding": 7
    }
  }
}
